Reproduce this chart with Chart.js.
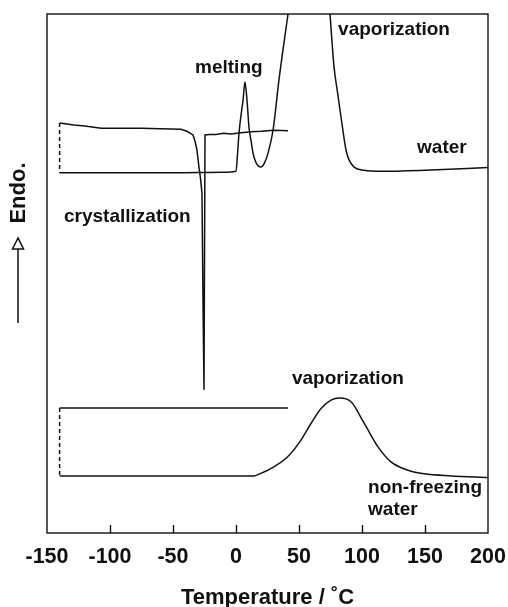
<!DOCTYPE html>
<html>
<head>
<meta charset="utf-8">
<script src="https://cdn.jsdelivr.net/npm/chart.js@4.4.0/dist/chart.umd.min.js"></script>
<style>
  html, body { margin: 0; padding: 0; background: #fff; }
</style>
</head>
<body>
<canvas id="dscChart" width="508" height="607"></canvas>
<script>
// temperature axis (deg C)
const tempTicks = [-150, -100, -50, 0, 50, 100, 150, 200];

// water: cooling run from 41 C down to -140 C (crystallization spike near -25 C)
const waterCoolT = [41.3, 30, 20, 12, 4, -4, -10, -16, -21, -24.6, -25.4, -26.2, -27.0, -28.2, -29.4, -31.0, -32.5, -34.1, -38.9, -43.7, -60, -75.4, -90, -107, -120, -128.6, -140];
const waterCoolQ = [7.75, 7.76, 7.74, 7.73, 7.71, 7.69, 7.70, 7.68, 7.68, 7.67, 2.76, 4.49, 6.55, 6.84, 7.05, 7.38, 7.55, 7.67, 7.74, 7.78, 7.79, 7.80, 7.80, 7.80, 7.84, 7.86, 7.90];

// water: heating run from -140 C (melting, then vaporization off scale)
const waterHeatT = [-140, -100, -50, -10, 0, 1.2, 2.4, 4, 5.6, 7.1, 8.7, 10.3, 12, 13.5, 16, 19.8, 23, 25.4, 29.4, 34.1, 41.3, 50, 60, 70, 74.6, 77.8, 80.5, 83.3, 87.3, 89.7, 93.7, 101.6, 115.1, 150, 200];
const waterHeatQ = [6.94, 6.94, 6.94, 6.95, 6.97, 7.30, 7.71, 8.05, 8.34, 8.69, 8.35, 7.82, 7.55, 7.32, 7.13, 7.05, 7.15, 7.32, 7.76, 8.73, 10.0, 11.5, 12.4, 11.4, 10.0, 8.98, 8.50, 8.02, 7.38, 7.19, 7.05, 6.99, 6.97, 6.99, 7.04];

// non-freezing water: cooling run
const nfCoolT = [41.3, -140];
const nfCoolQ = [2.41, 2.41];

// non-freezing water: heating run
const nfHeatT = [-140, -50, 0, 14.3, 19.8, 30.4, 41.0, 51.6, 59.5, 67.5, 75.4, 82, 91.3, 101.6, 112.7, 123, 136.5, 149.2, 170.6, 200];
const nfHeatQ = [1.10, 1.10, 1.10, 1.10, 1.15, 1.28, 1.47, 1.79, 2.11, 2.40, 2.56, 2.60, 2.53, 2.12, 1.66, 1.37, 1.21, 1.14, 1.10, 1.07];

// text placed on the plot, anchored in data coordinates (left edge, middle)
const notes = [
  { text: 'melting', t: -32.5, q: 8.96 },
  { text: 'vaporization', t: 81, q: 9.69 },
  { text: 'water', t: 143.7, q: 7.42 },
  { text: 'crystallization', t: -136.5, q: 6.09 },
  { text: 'vaporization', t: 44.4, q: 2.97 },
  { text: 'non-freezing', t: 104.8, q: 0.87 },
  { text: 'water', t: 104.8, q: 0.44 }
];

const INK = '#111';
const FONT = '"Liberation Sans", Arial, Helvetica, sans-serif';

function pts(ts, qs) {
  return ts.map((t, i) => ({ x: t, y: qs[i] }));
}

// dashed vertical hold between end of cooling and start of heating
function hold(coolT, coolQ, heatQ) {
  const t = coolT[coolT.length - 1];
  return [{ x: t, y: coolQ[coolQ.length - 1] }, { x: t, y: heatQ[0] }];
}

function line(data, extra) {
  return Object.assign({
    data,
    borderColor: INK,
    borderWidth: 1.5,
    pointRadius: 0,
    tension: 0,
    fill: false
  }, extra || {});
}

const decor = {
  id: 'decor',
  afterDraw(chart) {
    const { ctx, chartArea: a, scales: { x, y } } = chart;
    ctx.save();
    ctx.strokeStyle = INK;
    ctx.lineWidth = 1.4;
    ctx.strokeRect(a.left, a.top, a.right - a.left, a.bottom - a.top);

    // tick marks pointing into the plot
    ctx.beginPath();
    tempTicks.slice(1, -1).forEach(t => {
      const px = Math.round(x.getPixelForValue(t)) + 0.5;
      ctx.moveTo(px, a.bottom);
      ctx.lineTo(px, a.bottom - 8);
    });
    ctx.stroke();

    ctx.fillStyle = INK;
    ctx.font = 'bold 19px ' + FONT;
    ctx.textAlign = 'left';
    ctx.textBaseline = 'middle';
    notes.forEach(n => ctx.fillText(n.text, x.getPixelForValue(n.t), y.getPixelForValue(n.q)));

    // "Endo." with upward arrow on the left
    ctx.save();
    ctx.translate(19, 193);
    ctx.rotate(-Math.PI / 2);
    ctx.font = 'bold 22px ' + FONT;
    ctx.textAlign = 'center';
    ctx.fillText('Endo.', 0, 0);
    ctx.restore();

    ctx.lineWidth = 1.5;
    ctx.beginPath();
    ctx.moveTo(18, 323);
    ctx.lineTo(18, 249);
    ctx.stroke();
    ctx.beginPath();
    ctx.moveTo(18, 238);
    ctx.lineTo(12.5, 249);
    ctx.lineTo(23.5, 249);
    ctx.closePath();
    ctx.stroke();
    ctx.restore();
  }
};

new Chart(document.getElementById('dscChart').getContext('2d'), {
  type: 'line',
  data: {
    datasets: [
      line(pts(waterCoolT, waterCoolQ)),
      line(hold(waterCoolT, waterCoolQ, waterHeatQ), { borderDash: [4, 3] }),
      line(pts(waterHeatT, waterHeatQ), { cubicInterpolationMode: 'monotone' }),
      line(pts(nfCoolT, nfCoolQ)),
      line(hold(nfCoolT, nfCoolQ, nfHeatQ), { borderDash: [4, 3] }),
      line(pts(nfHeatT, nfHeatQ), { cubicInterpolationMode: 'monotone' })
    ]
  },
  options: {
    responsive: false,
    animation: false,
    layout: { padding: { left: 47, right: 20, top: 14, bottom: 0 } },
    plugins: { legend: { display: false }, tooltip: { enabled: false } },
    scales: {
      x: {
        type: 'linear',
        min: -150,
        max: 200,
        afterBuildTicks: s => { s.ticks = tempTicks.map(v => ({ value: v })); },
        // fixed axis band; end labels may overhang the frame
        afterFit: s => { s.height = 74; s.paddingLeft = 0; s.paddingRight = 0; },
        grid: { drawOnChartArea: false, drawTicks: false },
        border: { display: false },
        ticks: { color: INK, padding: 11, font: { family: FONT, size: 21.5, weight: 'bold' } },
        title: {
          display: true,
          text: 'Temperature / ˚C',
          color: INK,
          padding: { top: 0, bottom: -4 },
          font: { family: FONT, size: 22, weight: 'bold' }
        }
      },
      y: { display: false, min: 0, max: 10 }
    }
  },
  plugins: [decor]
});
</script>
</body>
</html>
